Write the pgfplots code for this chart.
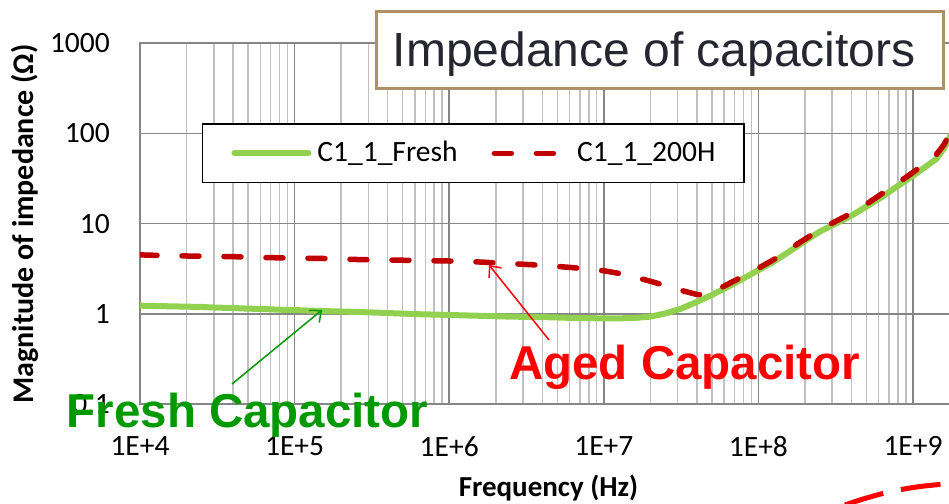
\documentclass[border=0pt]{standalone}
\usepackage{fontspec}
\setmainfont{Carlito}
\newfontfamily\arialfont{Liberation Sans}
\usepackage{pgfplots}
\pgfplotsset{compat=1.18}
\usetikzlibrary{arrows.meta}
\definecolor{freshgreen}{RGB}{146,208,80}
\definecolor{agedred}{RGB}{192,0,0}
\definecolor{majgrid}{RGB}{134,134,134}
\definecolor{mingrid}{RGB}{192,192,192}
\definecolor{tanbox}{RGB}{176,144,104}
\definecolor{titletext}{RGB}{38,38,48}
\definecolor{anngreen}{RGB}{0,153,0}
\begin{document}
\begin{tikzpicture}[x=1pt,y=1pt]
\useasboundingbox (0,0) rectangle (949,503);
\clip (0,0) rectangle (949,503);
\begin{axis}[
  at={(140pt,99pt)}, anchor=south west,
  scale only axis, width=927.6pt, height=360.8pt,
  xmode=log, ymode=log,
  xmin=1e4, xmax=1e10, ymin=0.1, ymax=1000,
  xtick={1e4,1e5,1e6,1e7,1e8,1e9},
  xticklabels={1E+4,1E+5,1E+6,1E+7,1E+8,1E+9},
  ytick={0.1,1,10,100,1000},
  yticklabels={0.1,1,10,100,1000},
  tick label style={font=\fontsize{29.5}{34}\selectfont, inner sep=0pt},
  xticklabel style={anchor=north, yshift=-32pt},
  yticklabel style={anchor=east, xshift=-30pt},
  major tick length=0pt, minor tick length=0pt,
  tick style={draw=none},
  xmajorgrids=true, xminorgrids=true, ymajorgrids=true, yminorgrids=false,
  major grid style={draw=majgrid, line width=1.6pt},
  minor grid style={draw=mingrid, line width=1.5pt},
  axis line style={draw=majgrid, line width=2.2pt},
  legend columns=2,
  legend style={at={(0.0668,0.778)}, anchor=north west, draw=black,
    line width=1.5pt, fill=white, inner xsep=28.75pt, inner ysep=15.75pt,
    font=\fontsize{29.5}{34}\selectfont,
    nodes={inner sep=0pt, text height=22pt, text depth=5pt},
    /tikz/every odd column/.append style={column sep=6pt},
    /tikz/every even column/.append style={column sep=34pt}},
  legend image code/.code={\draw[#1] (3pt,0pt) -- (77pt,0pt);},
]
\addplot[freshgreen, line width=6pt, line cap=round, line join=round] coordinates {
(1e4,1.23)(1.259e4,1.22)(1.585e4,1.21)(1.995e4,1.20)(2.512e4,1.19)(3.162e4,1.17)(3.981e4,1.16)(5.012e4,1.14)(6.310e4,1.13)(7.943e4,1.11)
(1e5,1.10)(1.585e5,1.07)(2.512e5,1.05)(3.981e5,1.02)(6.310e5,0.99)
(1e6,0.97)(1.585e6,0.95)(2.512e6,0.93)(3.981e6,0.92)(6.310e6,0.90)
(1e7,0.89)(1.259e7,0.89)(1.585e7,0.90)(1.995e7,0.93)(2.512e7,1.01)(3.162e7,1.14)(3.981e7,1.35)(5.012e7,1.62)(6.310e7,1.98)(7.943e7,2.45)
(1e8,3.05)(1.259e8,3.8)(1.585e8,4.9)(1.995e8,6.4)(2.512e8,8.2)(3.162e8,10.0)(3.981e8,12.2)(5.012e8,15.5)(6.310e8,19.8)(7.943e8,26)
(1e9,34)(1.259e9,45)(1.413e9,52)(1.585e9,68)(1.778e9,100)(1.995e9,140)
};
\addlegendentry{C1\_1\_Fresh}
\addplot[agedred, line width=5.5pt, line cap=round, line join=round, dash pattern=on 17pt off 25pt] coordinates {
(1e4,4.5)(1.585e4,4.4)(2.512e4,4.35)(3.981e4,4.3)(6.310e4,4.2)
(1e5,4.15)(1.585e5,4.1)(2.512e5,4.0)(3.981e5,3.95)(6.310e5,3.9)
(1e6,3.85)(1.585e6,3.75)(2.512e6,3.6)(3.981e6,3.45)(6.310e6,3.25)
(1e7,3.0)(1.259e7,2.8)(1.585e7,2.55)(1.995e7,2.3)(2.512e7,2.05)(3.162e7,1.82)(3.981e7,1.64)(4.467e7,1.62)(5.012e7,1.72)(6.310e7,2.12)(7.943e7,2.6)
(1e8,3.2)(1.259e8,4.0)(1.585e8,5.2)(1.995e8,6.7)(2.512e8,8.6)(3.162e8,10.6)(3.981e8,13.0)(5.012e8,16.5)(6.310e8,21.5)(7.943e8,28)
(1e9,37)(1.259e9,50)(1.413e9,58)(1.585e9,75)(1.778e9,110)(1.995e9,150)
};
\addlegendentry{C1\_1\_200H}
\end{axis}
% title box
\draw[tanbox, line width=3pt, fill=white] (376.5,491.5) rectangle (943.5,414.5);
\node[anchor=base west, inner sep=0pt, text=titletext, font=\arialfont\fontsize{48}{56}\selectfont] at (392.5,436) {Impedance of capacitors};
% axis titles
\node[anchor=base, inner sep=0pt, font=\bfseries\fontsize{29}{34}\selectfont] at (548.5,7) {Frequency (Hz)};
\node[rotate=90, anchor=base, inner sep=0pt, font=\bfseries\fontsize{30}{34}\selectfont] at (33,279) {Magnitude of impedance (Ω)};
% annotations
\draw[anngreen, line width=1.5pt, -{Straight Barb[length=9pt,width=16pt]}] (232,119) -- (322,193);
\draw[red, line width=1.5pt, -{Straight Barb[length=9pt,width=16pt]}] (549,163) -- (489,238);
\node[anchor=base west, inner sep=0pt, text=anngreen, font=\arialfont\bfseries\fontsize{47.5}{54}\selectfont] at (66.5,76) {Fresh Capacitor};
\node[anchor=base west, inner sep=0pt, text=red, font=\arialfont\bfseries\fontsize{47.5}{54}\selectfont] at (509,123) {Aged Capacitor};
\draw[red, line width=5pt, dash pattern=on 40pt off 18pt] (845,-2) .. controls (885,12) and (915,18) .. (965,20);
\end{tikzpicture}
\end{document}
